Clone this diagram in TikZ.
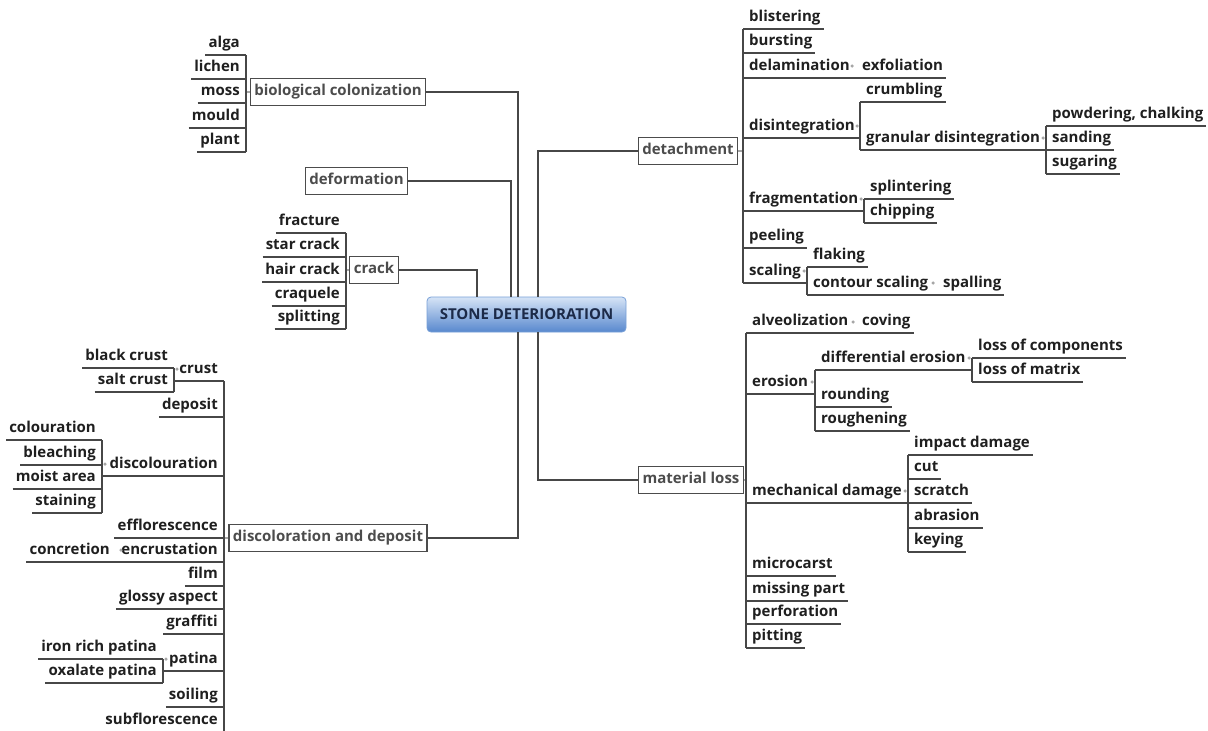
\documentclass[tikz,border=0pt]{standalone}
\usepackage{fontspec}
\setmainfont{Open Sans}
\definecolor{rtop}{RGB}{214,228,246}
\definecolor{rbot}{RGB}{88,136,206}
\definecolor{rbrd}{RGB}{120,160,215}
\definecolor{rtxt}{RGB}{28,42,72}
\newcommand\mkR[4]{\node[lf,anchor=south west] (#1) at ({#2+3},#3) {#4}; \draw[ln] (#2,#3) -- (#1.south east);}
\newcommand\mkRP[5]{\node[lf,anchor=south west] (#1) at ({#2+3},#3) {#5}; \draw[ln] (#2,#3) -- (#4,#3); \node[dt] (#1d) at ({#4-3},{#3-12}) {};}
\newcommand\mkL[4]{\node[lf,anchor=south east] (#1) at ({#2-3},#3) {#4}; \draw[ln] (#1.south west) -- (#2,#3);}
\newcommand\mkLP[5]{\node[lf,anchor=south east] (#1) at ({#2-3},#3) {#5}; \draw[ln] (#4,#3) -- (#2,#3); \node[dt] (#1d) at ({#4+3},{#3-12}) {};}
\begin{document}
\begin{tikzpicture}[x=1pt,y=-1pt,
  lf/.style={font=\bfseries\fontsize{15}{18}\selectfont, text=black!88, inner xsep=3pt, inner ysep=3pt, text height=11pt, text depth=4pt},
  ln/.style={draw=black!72, line width=1.2pt},
  gln/.style={draw=black!35, line width=1.6pt},
  bx/.style={draw=black!70, line width=1.2pt, fill=white, font=\bfseries\fontsize{15}{18}\selectfont, text=black!70, inner xsep=4pt, minimum height=27pt, text height=11pt, text depth=4pt},
  dt/.style={circle, fill=black!35, inner sep=0pt, minimum size=3.5pt}]
\useasboundingbox (0,0) rectangle (1208,731);

% ---------- main boxes ----------
\node[bx] (bio) at (338,92) {biological colonization};
\node[bx] (defo) at (356.5,181) {deformation};
\node[bx] (crac) at (374,270) {crack};
\node[bx] (dcol) at (328,538) {discoloration and deposit};
\node[bx] (deta) at (688,151) {detachment};
\node[bx] (matl) at (691,480) {material loss};

\node[draw=rbrd, line width=0.8pt, rounded corners=4pt, top color=rtop, bottom color=rbot,
      minimum width=199pt, minimum height=35pt, text=rtxt,
      font=\bfseries\fontsize{15}{18}\selectfont] (root) at (526.5,314.5) {STONE DETERIORATION};

% ---------- main connectors ----------
\coordinate (jbio) at (518,92);
\coordinate (jdef) at (511,181);
\coordinate (jcra) at (477,270);
\coordinate (jdco) at (518,538);
\coordinate (jdet) at (538,151);
\coordinate (jmat) at (538,480);
\draw[ln] (bio.east) -- (jbio) -- (jbio |- root.north);
\draw[ln] (defo.east) -- (jdef) -- (jdef |- root.north);
\draw[ln] (crac.east) -- (jcra) -- (jcra |- root.north);
\draw[ln] (dcol.east) -- (jdco) -- (jdco |- root.south);
\draw[ln] (deta.west) -- (jdet) -- (jdet |- root.north);
\draw[ln] (matl.west) -- (jmat) -- (jmat |- root.south);

% ---------- biological colonization ----------
\draw[gln] (246,92) -- (bio.west);
\draw[ln] (246,55) -- (246,152);
\mkL{alga}{246}{55}{alga}
\mkL{lich}{246}{79}{lichen}
\mkL{moss}{246}{103}{moss}
\mkL{moul}{246}{128}{mould}
\mkL{plan}{246}{152}{plant}

% ---------- crack ----------
\draw[gln] (346,270) -- (crac.west);
\draw[ln] (346,233) -- (346,329);
\mkL{frac}{346}{233}{fracture}
\mkL{star}{346}{257}{star crack}
\mkL{hair}{346}{282}{hair crack}
\mkL{craq}{346}{306}{craquele}
\mkL{spli2}{346}{329}{splitting}

% ---------- discoloration and deposit ----------
\draw[gln] (224,538) -- (dcol.west);
\draw[ln] (224,381) -- (224,731);
\mkLP{crus}{224}{381}{174}{crust}
\draw[ln] (174,368) -- (174,392);
\mkL{blac}{174}{368}{black crust}
\mkL{salt}{174}{392}{salt crust}
\mkL{depo}{224}{417}{deposit}
\mkLP{disc}{224}{476}{102}{discolouration}
\draw[ln] (102,440) -- (102,513);
\mkL{colo}{102}{440}{colouration}
\mkL{blea}{102}{465}{bleaching}
\mkL{mois}{102}{489}{moist area}
\mkL{stai}{102}{513}{staining}
\mkL{effl}{224}{538}{efflorescence}
\mkL{encr}{224}{562}{encrustation}
\node[dt] (encrd) at (121,550) {};
\node[lf,anchor=south east] (conc) at (113,562) {concretion};
\draw[ln] (conc.south west) -- (encr.south west);
\mkL{film}{224}{586}{film}
\mkL{glos}{224}{609}{glossy aspect}
\mkL{graf}{224}{634}{graffiti}
\mkLP{pati}{224}{671}{163}{patina}
\draw[ln] (163,659) -- (163,683);
\mkL{iron}{163}{659}{iron rich patina}
\mkL{oxal}{163}{683}{oxalate patina}
\mkL{soil}{224}{707}{soiling}
\mkL{subf}{224}{732}{subflorescence}

% ---------- detachment ----------
\draw[gln] (deta.east) -- (743,151);
\draw[ln] (743,29) -- (743,283);
\mkR{blis}{743}{29}{blistering}
\mkR{burs}{743}{53}{bursting}
\mkR{dela}{743}{78}{delamination}
\node[dt] (delad) at (852,66) {};
\node[lf,anchor=south west] (exfo) at (859,78) {exfoliation};
\draw[ln] (dela.south east) -- (exfo.south east);
\mkRP{disi}{743}{138}{860}{disintegration}
\draw[ln] (860,102) -- (860,150);
\mkR{crum}{860}{102}{crumbling}
\mkRP{gran}{860}{150}{1046}{granular disintegration}
\draw[ln] (1046,126) -- (1046,174);
\mkR{powd}{1046}{126}{powdering, chalking}
\mkR{sand}{1046}{150}{sanding}
\mkR{suga}{1046}{174}{sugaring}
\mkRP{frag}{743}{211}{864}{fragmentation}
\draw[ln] (864,199) -- (864,223);
\mkR{spli}{864}{199}{splintering}
\mkR{chip}{864}{223}{chipping}
\mkR{peel}{743}{248}{peeling}
\mkRP{scal}{743}{283}{807}{scaling}
\draw[ln] (807,267) -- (807,295);
\mkR{flak}{807}{267}{flaking}
\mkR{cont}{807}{295}{contour scaling}
\node[dt] (contd) at (933,283) {};
\node[lf,anchor=south west] (spal) at (940,295) {spalling};
\draw[ln] (cont.south east) -- (spal.south east);

% ---------- material loss ----------
\draw[gln] (matl.east) -- (746,480);
\draw[ln] (746,333) -- (746,648);
\mkR{alve}{746}{333}{alveolization}
\node[dt] (alved) at (853,322) {};
\node[lf,anchor=south west] (covi) at (859,333) {coving};
\draw[ln] (alve.south east) -- (covi.south east);
\mkRP{eros}{746}{394}{815}{erosion}
\draw[ln] (815,370) -- (815,431);
\mkRP{diff}{815}{370}{972}{differential erosion}
\draw[ln] (972,358) -- (972,382);
\mkR{lcom}{972}{358}{loss of components}
\mkR{lmat}{972}{382}{loss of matrix}
\mkR{roun}{815}{407}{rounding}
\mkR{roug}{815}{431}{roughening}
\mkRP{mech}{746}{503}{908}{mechanical damage}
\draw[ln] (908,455) -- (908,552);
\mkR{impa}{908}{455}{impact damage}
\mkR{cutn}{908}{479}{cut}
\mkR{scra}{908}{503}{scratch}
\mkR{abra}{908}{528}{abrasion}
\mkR{keyi}{908}{552}{keying}
\mkR{micr}{746}{576}{microcarst}
\mkR{miss}{746}{601}{missing part}
\mkR{perf}{746}{624}{perforation}
\mkR{pitt}{746}{648}{pitting}
\end{tikzpicture}
\end{document}
